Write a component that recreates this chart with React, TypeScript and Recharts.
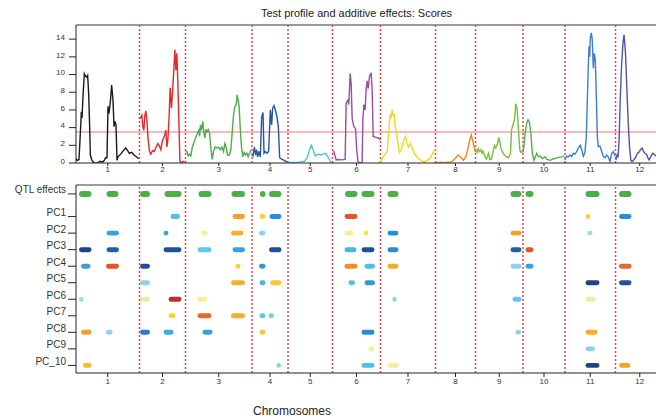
import { LineChart, Line, XAxis, YAxis, ReferenceLine, ReferenceArea, Rectangle } from "recharts";

const FONT = '"Liberation Sans", Arial, Helvetica, sans-serif';

// chromosome lengths (cM)
const CHR_LEN = [127, 92, 133, 72, 89, 96, 110, 80, 95, 84, 101, 97];
const CHR_NAMES = ["1", "2", "3", "4", "5", "6", "7", "8", "9", "10", "11", "12"];
const CHR_COLORS = [
  "#1a1a1a", "#e8262a", "#4daf4a", "#2255a4", "#4fc3d6", "#984ea3",
  "#ecd91c", "#f28a1e", "#7cbf3c", "#52b054", "#3a7fcc", "#5b4ea8",
];

// LOD profile per chromosome: [position within chromosome (cM), LOD]
const CHR1 = [[0, 0.5], [2.7, 0.3], [6, 0.4], [8.7, 3.4], [10.7, 5.8], [12, 5.1], [14, 7.5], [16.7, 10.1], [19.3, 9.8], [21.3, 9.7], [23.3, 9.9], [25.3, 7.9], [27.3, 4.1], [28.7, 0.9], [32, 0.3], [36, 0], [42.7, 0], [48, 0.2], [52.7, 0.1], [56.7, 0.3], [59.3, 0.6], [62, 0.6], [64, 6.4], [66, 5.6], [68.7, 6.9], [71.3, 8.8], [74, 7.1], [76, 4.1], [78, 4.7], [80, 4.3], [82, 0.3], [84, 0.7], [89.3, 1.0], [94.7, 1.4], [99.3, 1.7], [103.3, 1.4], [106.7, 1.1], [111.3, 1.2], [116, 0.9], [120.7, 0.7], [125.3, 0.5]];
const CHR2 = [[1, 5.0], [2.7, 5.2], [4.7, 5.4], [6.7, 4.1], [8.7, 3.7], [10.7, 5.4], [12.7, 5.9], [14.7, 4.9], [17.3, 2.6], [20, 1.3], [22.7, 1.0], [26, 1.4], [29.3, 1.3], [33.3, 1.8], [36.7, 2.2], [40, 1.9], [42.7, 1.5], [45.3, 2.4], [48, 2.8], [50.7, 3.2], [52.7, 3.7], [54.7, 1.8], [56.7, 2.6], [59.3, 5.4], [61.3, 8.5], [64, 6.2], [66.7, 8.6], [68.7, 10.7], [70.7, 12.8], [72.7, 10.5], [74.7, 12.4], [76.7, 9.0], [78.7, 4.9], [80.7, 0.3], [82.7, 0], [86.7, 0.15], [90, 0.2]];
const CHR3 = [[0, 1.3], [2.7, 1.3], [5.3, 0.8], [8, 1.0], [10.7, 0.8], [13.3, 1.7], [16, 2.2], [18.7, 2.6], [21.3, 3.0], [24, 3.4], [26.7, 3.7], [28, 3.0], [30, 4.3], [32, 3.7], [34.7, 4.7], [36.7, 3.4], [38.7, 2.8], [40.7, 3.8], [42.7, 3.5], [45.3, 3.8], [48, 3.4], [50.7, 1.8], [53.3, 0.4], [56, 1.3], [59.3, 1.8], [62.7, 1.7], [66, 1.8], [69.3, 1.5], [72.7, 1.8], [76, 1.3], [78.7, 2.2], [81.3, 1.8], [84, 0.9], [88, 0.9], [90.7, 1.5], [93.3, 3.4], [96, 5.4], [98.7, 6.4], [101.3, 6.6], [103.3, 7.7], [105.3, 7.1], [107.3, 6.4], [109.3, 4.1], [112, 1.8], [114.7, 0.7], [117.3, 1.2], [120, 0.9], [122.7, 1.1], [125.3, 0.7], [128, 1.1], [130.7, 1.5]];
const CHR4 = [[0, 0.9], [2, 0.8], [4.7, 1.8], [7.3, 0.9], [9.3, 1.5], [11.3, 0.7], [14, 1.3], [16.7, 0.7], [19.3, 5.2], [22, 5.7], [24, 1.1], [26.7, 1.3], [30, 1.1], [33.3, 1.3], [36.7, 6.0], [39.3, 4.3], [41.3, 6.2], [44, 6.5], [46.7, 6.0], [50, 5.2], [52.7, 4.1], [55.3, 0.6], [60, 0.4], [64.7, 0.3], [70, 0.1]];
const CHR5 = [[0.6, 0.05], [10.6, 0.05], [22.6, 0.1], [32.6, 0.2], [38.6, 0.6], [42.6, 1.4], [46.6, 2.0], [50.6, 1.4], [54.6, 0.8], [60.6, 1.0], [66.6, 0.9], [72.6, 1.1], [76.6, 1.0], [80.6, 0.6], [86.6, 0.05]];
const CHR6 = [[1, 1.3], [2.7, 1.28], [4.7, 0.9], [7.3, 0.35], [10.7, 0.4], [17.3, 0.35], [25.3, 0.4], [27.3, 6.75], [30.7, 7.1], [32.7, 6.6], [35.3, 10.1], [37.3, 9.0], [39.3, 5.05], [42.7, 4.1], [46, 3.9], [48.7, 1.3], [51.3, 0.1], [56, 0], [59.3, 0], [60.7, 4.9], [62.7, 6.6], [65.3, 6.0], [67.3, 8.4], [69.3, 9.3], [71.3, 8.4], [74, 9.8], [77.3, 10.2], [79.3, 8.3], [81.3, 3.0], [87.3, 2.9], [92.7, 2.8], [96, 2.6]];
const CHR7 = [[0, 0.1], [3.4, 0.5], [8, 0.9], [13.4, 1.3], [16.6, 3.7], [19.4, 5.4], [21.4, 5.2], [23.4, 6.0], [25.4, 5.4], [27.4, 5.5], [29.4, 4.1], [32, 3.4], [35.4, 2.0], [38, 1.2], [42, 1.6], [46, 2.5], [50, 3.0], [53, 2.2], [56.6, 1.8], [60, 2.2], [65.4, 1.4], [70, 0.9], [76, 0.5], [82, 0.25], [88, 0.1], [94, 0.3], [100, 0.6], [106.6, 1.3], [110, 1.5]];
const CHR8 = [[0, 0.05], [5.4, 0], [11.4, 0.1], [17.4, 0], [23.4, 0.1], [29.4, 0.05], [33.4, 0.2], [39.4, 0.5], [45.4, 0.9], [51.4, 0.6], [56, 0.3], [61.4, 0.8], [65.4, 1.8], [69.4, 2.8], [71.4, 3.2], [74, 2.6], [76.4, 2.0], [80, 1.2]];
const CHR9 = [[0, 1.47], [3.2, 1.2], [5.2, 1.65], [8, 1.3], [10.6, 1.5], [13.2, 1.1], [15.2, 1.36], [18.6, 0.75], [22, 0.45], [26, 1.1], [28.6, 0.4], [31.2, 0.4], [34.6, 1.1], [38, 2.0], [40.6, 1.7], [44, 2.2], [46.6, 2.9], [48.6, 2.4], [51.2, 1.6], [55.2, 1.1], [60.6, 0.75], [66, 0.6], [70, 1.1], [72, 3.7], [75.2, 4.4], [78, 4.9], [80.6, 6.7], [83.2, 6.1], [86, 3.7], [88.6, 1.5], [90.6, 1.2], [94.6, 1.3]];
const CHR10 = [[0, 1.2], [2, 2.0], [4, 3.3], [7.4, 4.5], [10, 4.9], [12.6, 4.7], [16, 3.2], [18.6, 1.1], [22, 0.3], [27.4, 1.1], [30.6, 0.7], [34, 0.8], [38.6, 0.5], [44, 0.7], [48, 0.4], [54, 0.3], [60, 0.45], [70, 0.6], [77.4, 0.7], [82.6, 0.8]];
const CHR11 = [[0, 0.34], [3.4, 0.8], [6.6, 0.7], [10, 0.9], [13.4, 0.75], [16.6, 1.1], [20, 1.0], [23.4, 1.3], [26.6, 1.7], [30.6, 2.0], [33.4, 1.5], [36.6, 0.75], [40, 1.2], [42.6, 3.0], [45.4, 8.6], [46.6, 10.9], [48, 13.2], [49.4, 12.0], [50.6, 14.1], [52.6, 14.7], [54.6, 13.9], [56.6, 10.7], [58.6, 12.4], [60.6, 11.65], [62.6, 7.7], [64.6, 3.0], [66.6, 1.85], [70, 1.9], [73.4, 1.3], [76.6, 0.75], [80, 0.6], [83.4, 0.9], [86.6, 0.7], [90, 0.15], [93.4, 1.1], [96.6, 1.3], [100, 0.75]];
const CHR12 = [[0.6, 0.34], [3.2, 0.9], [5.2, 0.75], [7.2, 2.6], [9.2, 6.75], [12, 10.9], [15.2, 13.7], [17.2, 14.5], [20, 12.4], [22.6, 8.6], [25.2, 4.9], [28, 1.85], [30.6, 0.34], [33.2, 0.15], [36.6, 0.34], [40, 0.6], [44, 1.1], [46.6, 1.2], [50, 1.5], [53.2, 1.7], [56, 1.3], [58.6, 1.1], [62, 1.0], [64.6, 0.6], [67.2, 0.34], [70.6, 0.75], [74.6, 1.1], [78.6, 0.9], [82, 0.75]];
const PROFILES = [CHR1, CHR2, CHR3, CHR4, CHR5, CHR6, CHR7, CHR8, CHR9, CHR10, CHR11, CHR12];

const THRESHOLD = 3.5;

// QTL intervals (genome cM)
const QTL = [[6, 31], [61, 85], [128, 148], [177, 211], [245, 271], [311, 338], [368, 379], [386, 411], [538, 563], [571, 597], [623, 645], [869, 891], [899, 915], [1019, 1047], [1086, 1111]];

// additive effects on each PC: [start, end, scaled effect]
const PC1 = [[189, 208, -0.45], [313, 338, 0.65], [367, 379, 0.45], [387, 411, -0.7], [537, 563, 0.85], [1019, 1029, 0.45], [1086, 1111, -0.7]];
const PC2 = [[61, 86, -0.6], [175, 185, -0.6], [250, 263, 0.25], [310, 335, 0.6], [366, 379, -0.3], [537, 555, 0.25], [575, 585, 0.38], [623, 645, -0.7], [869, 891, 0.65], [1023, 1033, -0.25]];
const PC3 = [[6, 31, -0.95], [61, 86, -0.85], [175, 211, -0.9], [243, 271, -0.4], [313, 338, -0.6], [386, 411, -0.9], [537, 561, -0.5], [571, 597, -0.9], [623, 645, -0.7], [869, 891, -0.85], [899, 915, 0.85]];
const PC4 = [[10, 29, -0.6], [60, 86, 0.85], [128, 148, -0.9], [319, 329, 0.45], [366, 379, -0.65], [537, 563, 0.7], [577, 598, -0.45], [623, 645, 0.6], [869, 891, -0.3], [899, 915, -0.6], [1086, 1111, 0.8]];
const PC5 = [[128, 148, -0.3], [310, 338, 0.6], [367, 379, -0.5], [388, 411, 0.5], [545, 558, -0.45], [577, 598, -0.65], [1019, 1047, -0.95], [1086, 1111, -0.9]];
const PC6 = [[6, 15, -0.25], [127, 148, 0.2], [185, 211, 0.95], [243, 263, 0.25], [633, 641, -0.3], [873, 891, -0.4], [1019, 1039, 0.2]];
const PC7 = [[185, 199, 0.45], [243, 271, 0.8], [310, 338, 0.6], [367, 379, -0.4], [385, 396, -0.35]];
const PC8 = [[10, 31, 0.65], [60, 73, -0.3], [128, 148, -0.75], [175, 195, -0.55], [253, 273, -0.6], [367, 379, 0.5], [571, 597, -0.7], [879, 890, -0.3], [1019, 1043, 0.6]];
const PC9 = [[585, 597, 0.25], [1019, 1038, -0.3]];
const PC10 = [[14, 31, 0.55], [401, 410, -0.3], [571, 597, -0.45], [623, 645, 0.25], [1019, 1047, -0.95], [1086, 1109, 0.65]];
const PC_ROWS = [PC1, PC2, PC3, PC4, PC5, PC6, PC7, PC8, PC9, PC10];

const ROW_LABELS = ["QTL effects", "PC1", "PC2", "PC3", "PC4", "PC5", "PC6", "PC7", "PC8", "PC9", "PC_10"];
const ROW_Y = [10.37, 9, 8, 7, 6, 5, 4, 3, 2, 1, 0];
const LOD_TICKS = [0, 2, 4, 6, 8, 10, 12, 14];

// derived layout of the genome
const OFFSETS = CHR_LEN.map((_, i) => CHR_LEN.slice(0, i).reduce((a, b) => a + b, 0));
const TOTAL = CHR_LEN.reduce((a, b) => a + b, 0);
const CENTERS = CHR_LEN.map((l, i) => OFFSETS[i] + l / 2);
const BOUNDS = OFFSETS.slice(1);
const chrLabel = (v: number) => CHR_NAMES[CENTERS.indexOf(v)] ?? "";

const STOPS: [number, string][] = [
  [-1, "#1b3376"], [-0.7, "#2a8bd6"], [-0.45, "#4fc0e8"], [-0.25, "#a0d8e8"],
  [0.25, "#f6ee98"], [0.45, "#f9d23a"], [0.65, "#f7a028"], [0.85, "#e0552a"], [1, "#b01e1e"],
];
const hex = (c: string) => [1, 3, 5].map((i) => parseInt(c.slice(i, i + 2), 16));
function effectColor(e: number) {
  for (let i = 0; i < STOPS.length - 1; i++) {
    const [a, ca] = STOPS[i];
    const [b, cb] = STOPS[i + 1];
    if (e <= b) {
      const t = Math.max(0, Math.min(1, (e - a) / (b - a)));
      const A = hex(ca), B = hex(cb);
      const rgb = A.map((v, k) => Math.round(v + (B[k] - v) * t));
      return `rgb(${rgb.join(",")})`;
    }
  }
  return STOPS[STOPS.length - 1][1];
}

const pill = (p: any) => (
  <Rectangle x={p.x} y={p.y} width={p.width} height={p.height} fill={p.fill}
    radius={Math.min(p.height / 2, p.width / 2)} />
);

const DOT_RED = "#e8464a";
const AXIS = "#222";

export default function App() {
  const lines = PROFILES.map((pts, i) =>
    pts.map(([p, lod]) => ({ pos: OFFSETS[i] + p, lod }))
  );
  return (
    <div style={{ position: "absolute", left: 0, top: 0, width: 656, height: 418, overflow: "hidden", background: "#fff", fontFamily: FONT }}>
      <div style={{ position: "absolute", left: 356.5, top: 7, transform: "translateX(-50%)", fontSize: 11, color: "#222", whiteSpace: "nowrap" }}>
        Test profile and additive effects: Scores
      </div>

      <div style={{ position: "absolute", left: 0, top: 0 }}>
        <LineChart width={680} height={177} margin={{ top: 25, right: 16, left: 0, bottom: 0 }}>
          <XAxis dataKey="pos" type="number" domain={[0, TOTAL]} ticks={CENTERS} tickFormatter={chrLabel}
            allowDataOverflow height={14} tickSize={3} tickMargin={0} interval={0}
            stroke={AXIS} tick={{ fontSize: 8, fill: "#333", fontFamily: FONT }} />
          <YAxis type="number" domain={[0, 15.6]} ticks={LOD_TICKS} width={76} tickSize={7} tickMargin={4}
            allowDataOverflow stroke={AXIS} interval={0}
            tick={(p: any) => (
              <text x={p.x} y={p.y - 2} dy="0.355em" textAnchor="end" fontSize={8} fill="#333" fontFamily={FONT}>
                {p.payload.value}
              </text>
            )} />
          <ReferenceLine y={15.6} stroke="#9a9a9a" strokeWidth={2} />
          <ReferenceLine y={THRESHOLD} stroke="#f4a3a3" strokeWidth={1.5} />
          {BOUNDS.map((b) => (
            <ReferenceLine key={b} x={b} stroke={DOT_RED} strokeWidth={1.5} strokeDasharray="2 2" />
          ))}
          {lines.map((d, i) => (
            <Line key={i} data={d} dataKey="lod" type="linear" stroke={CHR_COLORS[i]} strokeWidth={1.4}
              dot={false} isAnimationActive={false} />
          ))}
        </LineChart>
      </div>

      <div style={{ position: "absolute", left: 0, top: 175 }}>
        <LineChart width={680} height={214} margin={{ top: 10, right: 16, left: 0, bottom: 0 }}>
          <XAxis dataKey="pos" type="number" domain={[0, TOTAL]} ticks={CENTERS} tickFormatter={chrLabel}
            allowDataOverflow height={16} tickSize={4} tickMargin={1} interval={0}
            stroke={AXIS} tick={{ fontSize: 8, fill: "#333", fontFamily: FONT }} />
          <YAxis type="number" domain={[-0.46, 10.91]} ticks={ROW_Y} width={76} tickSize={8} tickMargin={2}
            allowDataOverflow stroke={AXIS} interval={0}
            tick={(p: any) => (
              <text x={p.x} y={p.y - 4} dy="0.355em" textAnchor="end" fontSize={10} fill="#333" fontFamily={FONT}>
                {ROW_LABELS[ROW_Y.indexOf(p.payload.value)]}
              </text>
            )} />
          <ReferenceLine y={10.91} stroke="#9a9a9a" strokeWidth={2} />
          {BOUNDS.map((b) => (
            <ReferenceLine key={b} x={b} stroke={DOT_RED} strokeWidth={1.5} strokeDasharray="2 2" />
          ))}
          {QTL.map(([a, b], j) => (
            <ReferenceArea key={"q" + j} x1={a} x2={b} y1={ROW_Y[0] - 0.18} y2={ROW_Y[0] + 0.18}
              fill="#4daf4a" fillOpacity={1} stroke="none" ifOverflow="visible" shape={pill} />
          ))}
          {PC_ROWS.map((segs, r) =>
            segs.map(([a, b, e], j) => (
              <ReferenceArea key={r + "-" + j} x1={a} x2={b} y1={ROW_Y[r + 1] - 0.15} y2={ROW_Y[r + 1] + 0.15}
                fill={effectColor(e)} fillOpacity={1} stroke="none" ifOverflow="visible" shape={pill} />
            ))
          )}
        </LineChart>
      </div>

      <div style={{ position: "absolute", left: 292, top: 404, transform: "translateX(-50%)", fontSize: 12, color: "#222", whiteSpace: "nowrap" }}>
        Chromosomes
      </div>
    </div>
  );
}
